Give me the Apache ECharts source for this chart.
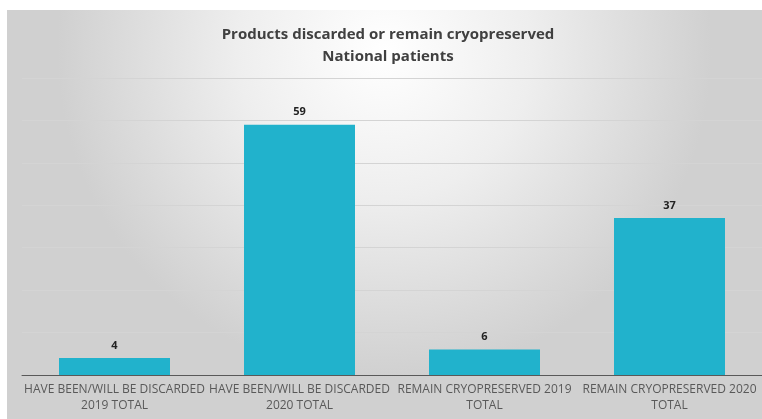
<!DOCTYPE html>
<html><head><meta charset="utf-8">
<script src="https://cdn.jsdelivr.net/npm/echarts@6/dist/echarts.min.js"></script>
<style>html,body{margin:0;padding:0;background:#fff;}#c{width:762px;height:419px;}</style>
</head><body><div id="c"></div>
<script>
var categories = ['HAVE BEEN/WILL BE DISCARDED\n2019 TOTAL','HAVE BEEN/WILL BE DISCARDED\n2020 TOTAL','REMAIN CRYOPRESERVED 2019\nTOTAL','REMAIN CRYOPRESERVED 2020\nTOTAL'];
var values = [4, 59, 6, 37];
var titleLines = ['Products discarded or remain cryopreserved', 'National patients'];
var chart = echarts.init(document.getElementById('c'), null, {renderer:'canvas'});
chart.setOption({
  animation:false,
  backgroundColor:'#fff',
  graphic:[{type:'rect', z:-10, silent:true, shape:{x:7,y:10,width:755,height:409},
    style:{fill:{type:'radial',x:0.5,y:0.1,r:0.8,colorStops:[{offset:0,color:'#ffffff'},{offset:0.45,color:'#eeeeee'},{offset:1,color:'#d0d0d0'}]}}}],
  title:{text:titleLines.join('\n'), left:383, top:19, textAlign:'center',
    textStyle:{fontFamily:'Open Sans', fontWeight:'bold', fontSize:15, color:'#404040', lineHeight:22}},
  grid:{left:22, right:0, top:78, bottom:44},
  xAxis:{type:'category', data:categories,
    axisLine:{lineStyle:{color:'#595959',width:1}}, axisTick:{show:false},
    axisLabel:{interval:0, fontFamily:'Open Sans', fontSize:12, color:'#595959', lineHeight:16, margin:7}},
  yAxis:{type:'value', min:0, max:70, interval:10, axisLabel:{show:false}, axisLine:{show:false}, axisTick:{show:false},
    splitLine:{lineStyle:{color:'#d4d4d4',width:1}}},
  series:[{type:'bar', data:values, barWidth:'60%', itemStyle:{color:'#21B2CC'},
    label:{show:true, position:'top', distance:7, fontFamily:'Open Sans', fontWeight:'bold', fontSize:11, color:'#222'}}]
});
</script></body></html>
